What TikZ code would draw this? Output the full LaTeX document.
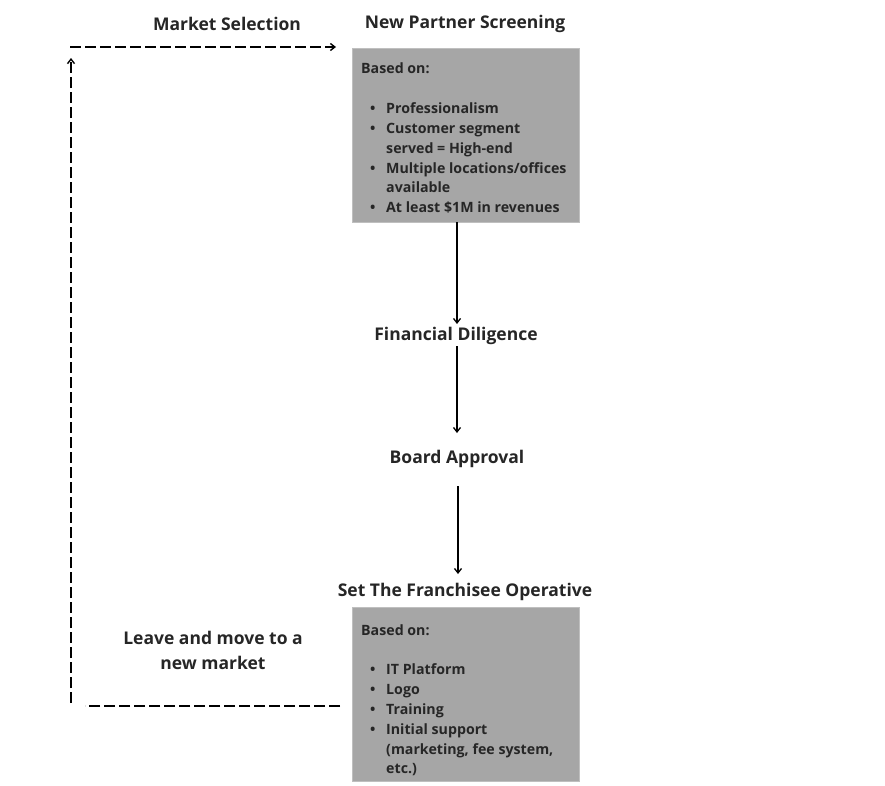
\documentclass[tikz,border=0pt]{standalone}
\usepackage{fontspec}
\setmainfont{Open Sans}
\usetikzlibrary{arrows.meta}
\newcommand\bitem{\hspace*{9pt}\makebox[16pt][l]{\textbullet}}
\newcommand\bcont{\hspace*{25pt}}
\begin{document}
\begin{tikzpicture}[x=1pt,y=-1pt,
  title/.style={font=\fontsize{17.5}{25}\selectfont\bfseries, inner sep=0, text=black!85},
  graybox/.style={fill=black!35, draw=black!25, line width=0.6pt, minimum width=227pt, minimum height=174pt, anchor=north west, inner sep=0},
  boxtext/.style={font=\fontsize{14.2}{19.8}\selectfont\bfseries, align=left, anchor=north west, inner sep=0, text=black!85},
  flow/.style={line width=1.3pt, -{Straight Barb[length=4.5pt,width=7pt]}},
  loop/.style={line width=1.6pt, dash pattern=on 11pt off 4pt},
]
\useasboundingbox (0,0) rectangle (885,785);

\node[title] (ms) at (227,24) {Market Selection};
\node[title] (nps) at (465,24) {New Partner Screening};
\node[graybox] (box1) at (352,48) {};
\node[boxtext] (t1) at (361,63) {Based on:\\[20pt]
\bitem Professionalism\\
\bitem Customer segment\\
\bcont served = High-end\\
\bitem Multiple locations/offices\\
\bcont available\\
\bitem At least \$1M in revenues};

\node[title] (fd) at (456,336) {Financial Diligence};
\node[title] (ba) at (457,459) {Board Approval};
\node[title] (sfo) at (465,592) {Set The Franchisee Operative};
\node[graybox] (box2) at (352,607) {};
\node[boxtext] (t2) at (361,624) {Based on:\\[20pt]
\bitem IT Platform\\
\bitem Logo\\
\bitem Training\\
\bitem Initial support\\
\bcont (marketing, fee system,\\
\bcont etc.)};

\node[title, align=center] (lv) at (213,650) {Leave and move to a\\new market};

\coordinate (b1s) at (457,222);
\coordinate (fdn) at (457,324);
\coordinate (fds) at (457,346);
\coordinate (ban) at (457,433);
\coordinate (bas) at (458,486);
\coordinate (sfon) at (458,574);
\draw[flow] (b1s) -- (fdn);
\draw[flow] (fds) -- (ban);
\draw[flow] (bas) -- (sfon);

\coordinate (bl1) at (340,706);
\coordinate (bl2) at (85,706);
\coordinate (vl1) at (71,703);
\coordinate (vl2) at (71,58);
\coordinate (tl1) at (70,47);
\coordinate (tl2) at (336,47);
\draw[loop] (bl1) -- (bl2);
\draw[loop, line width=1.4pt, -{Straight Barb[length=4.5pt,width=7pt]}] (vl1) -- (vl2);
\draw[loop, line width=1.4pt, -{Straight Barb[length=4.5pt,width=7pt]}] (tl1) -- (tl2);
\end{tikzpicture}
\end{document}
